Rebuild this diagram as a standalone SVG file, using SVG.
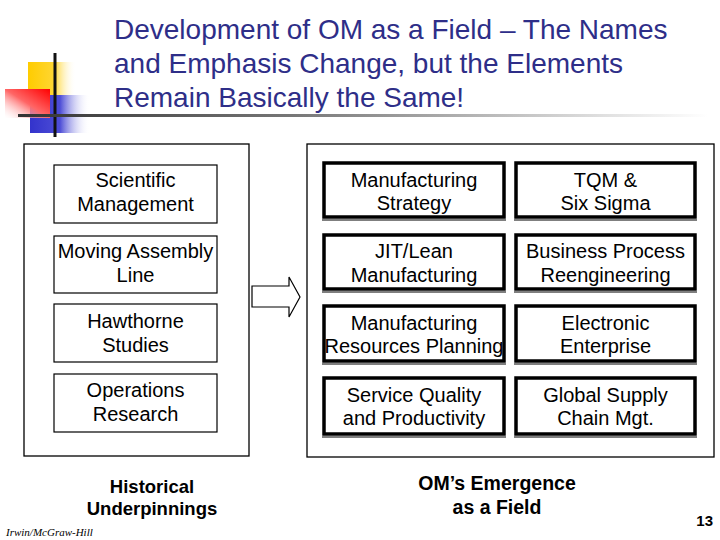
<svg xmlns="http://www.w3.org/2000/svg" width="720" height="540" viewBox="0 0 720 540">
<defs>
<linearGradient id="gY" x1="0" y1="0" x2="1" y2="0"><stop offset="0" stop-color="#FFCC00"/><stop offset="0.55" stop-color="#FFD633"/><stop offset="1" stop-color="#FFFFFF" stop-opacity="0"/></linearGradient>
<linearGradient id="gR" x1="1" y1="0" x2="0" y2="1"><stop offset="0" stop-color="#FF0000"/><stop offset="0.5" stop-color="#FF6666"/><stop offset="1" stop-color="#FFFFFF" stop-opacity="0.2"/></linearGradient>
<linearGradient id="gB" x1="0" y1="0" x2="1" y2="0"><stop offset="0" stop-color="#3333CC"/><stop offset="0.5" stop-color="#4D4DD6"/><stop offset="1" stop-color="#FFFFFF" stop-opacity="0"/></linearGradient>
<linearGradient id="gL" x1="0" y1="0" x2="1" y2="0"><stop offset="0" stop-color="#333333"/><stop offset="0.4" stop-color="#777777"/><stop offset="0.85" stop-color="#E0E0E0"/><stop offset="1" stop-color="#FFFFFF"/></linearGradient>
</defs>
<style>
.title{font-family:"Liberation Sans",Arial,sans-serif;font-size:28px;fill:#2E2E88}
.t{font-family:"Liberation Sans",Arial,sans-serif;font-size:20px;fill:#000;text-anchor:middle}
.b{font-family:"Liberation Sans",Arial,sans-serif;font-weight:bold;fill:#000;text-anchor:middle}
.panel{fill:none;stroke:#000;stroke-width:1.3}
.lbox{fill:#fff;stroke:#000;stroke-width:1.2}
.rbox{fill:#fff;stroke:#000;stroke-width:3.5}
.sh{stroke:#000;stroke-width:1.2}
</style>
<rect width="720" height="540" fill="#fff"/>
<g id="logo">
<rect x="28" y="62" width="48" height="33" fill="url(#gY)"/>
<rect x="30" y="95" width="60" height="38" fill="url(#gB)"/>
<rect x="5" y="89" width="45" height="29" fill="url(#gR)"/>
<line x1="55" y1="53" x2="55" y2="137" stroke="#111" stroke-width="3"/>
<rect x="18" y="114" width="690" height="3" fill="url(#gL)"/>
</g>
<g id="title">
<text class="title" x="114" y="39">Development of OM as a Field – The Names</text>
<text class="title" x="114" y="73">and Emphasis Change, but the Elements</text>
<text class="title" x="114" y="107">Remain Basically the Same!</text>
</g>
<g id="historical">
<rect class="panel" x="24" y="144" width="225" height="312"/>
<text class="b" x="152" y="493" font-size="18.5">Historical</text>
<text class="b" x="152" y="515" font-size="18.5">Underpinnings</text>
</g>
<g id="n-scientific"><rect class="lbox" x="54" y="165" width="163" height="58"/><text class="t" x="135.5" y="187">Scientific</text><text class="t" x="135.5" y="211">Management</text></g>
<g id="n-assembly"><rect class="lbox" x="54" y="236" width="163" height="57"/><text class="t" x="135.5" y="258">Moving Assembly</text><text class="t" x="135.5" y="282">Line</text></g>
<g id="n-hawthorne"><rect class="lbox" x="54" y="304" width="163" height="58"/><text class="t" x="135.5" y="328">Hawthorne</text><text class="t" x="135.5" y="352">Studies</text></g>
<g id="n-or"><rect class="lbox" x="54" y="374" width="163" height="58"/><text class="t" x="135.5" y="397">Operations</text><text class="t" x="135.5" y="421">Research</text></g>
<g id="connectors">
<path d="M252 286 L289 286 L289 277 L300 297 L289 317 L289 307 L252 307 Z" fill="#fff" stroke="#000" stroke-width="1.2"/>
</g>
<g id="emergence">
<rect class="panel" x="307" y="144" width="407" height="313"/>
<text class="b" x="497" y="490" font-size="19.5">OM’s Emergence</text>
<text class="b" x="497" y="514" font-size="19.5">as a Field</text>
</g>
<g id="n-mfgstrategy"><rect class="rbox" x="324" y="163" width="180" height="54"/><line class="sh" x1="322" y1="220" x2="506" y2="220"/><text class="t" x="414" y="187">Manufacturing</text><text class="t" x="414" y="210">Strategy</text></g>
<g id="n-tqm"><rect class="rbox" x="516" y="163" width="179" height="54"/><line class="sh" x1="514" y1="220" x2="697" y2="220"/><text class="t" x="605.5" y="187">TQM &amp;</text><text class="t" x="605.5" y="210">Six Sigma</text></g>
<g id="n-jit"><rect class="rbox" x="324" y="235" width="180" height="54"/><line class="sh" x1="322" y1="292" x2="506" y2="292"/><text class="t" x="414" y="258">JIT/Lean</text><text class="t" x="414" y="282">Manufacturing</text></g>
<g id="n-bpr"><rect class="rbox" x="516" y="235" width="179" height="54"/><line class="sh" x1="514" y1="292" x2="697" y2="292"/><text class="t" x="605.5" y="258">Business Process</text><text class="t" x="605.5" y="282">Reengineering</text></g>
<g id="n-mrp"><rect class="rbox" x="324" y="306" width="180" height="55"/><line class="sh" x1="322" y1="364" x2="506" y2="364"/><text class="t" x="414" y="330">Manufacturing</text><text class="t" x="414" y="353">Resources Planning</text></g>
<g id="n-ee"><rect class="rbox" x="516" y="306" width="179" height="55"/><line class="sh" x1="514" y1="364" x2="697" y2="364"/><text class="t" x="605.5" y="330">Electronic</text><text class="t" x="605.5" y="353">Enterprise</text></g>
<g id="n-sqp"><rect class="rbox" x="324" y="378" width="180" height="56"/><line class="sh" x1="322" y1="437" x2="506" y2="437"/><text class="t" x="414" y="402">Service Quality</text><text class="t" x="414" y="425">and Productivity</text></g>
<g id="n-gscm"><rect class="rbox" x="516" y="378" width="179" height="56"/><line class="sh" x1="514" y1="437" x2="697" y2="437"/><text class="t" x="605.5" y="402">Global Supply</text><text class="t" x="605.5" y="425">Chain Mgt.</text></g>
<g id="footer">
<text x="6" y="536" font-family="'Liberation Serif','Times New Roman',serif" font-style="italic" font-size="11" fill="#000">Irwin/McGraw-Hill</text>
<text x="713" y="526" font-family="'Liberation Sans',Arial,sans-serif" font-size="15" font-weight="bold" text-anchor="end" fill="#000">13</text>
</g>
</svg>
